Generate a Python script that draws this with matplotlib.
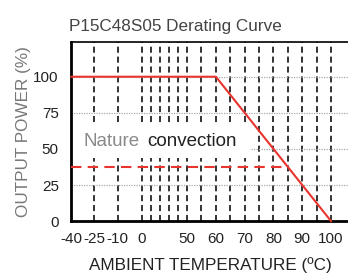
import matplotlib
matplotlib.use("Agg")
import matplotlib.pyplot as plt
from matplotlib.patches import Rectangle
import numpy as np

plt.rcParams.update({"font.family": ["Liberation Sans", "DejaVu Sans"]})

# temperature axis is drawn piecewise (the original chart is not linear)
AX_TEMPS = [-40, -25, -10, 0, 50, 100, 120]
AX_UNITS = [0, 23, 46, 70, 115, 258, 315.2]
fwd = lambda t: np.interp(t, AX_TEMPS, AX_UNITS)
inv = lambda u: np.interp(u, AX_UNITS, AX_TEMPS)

XTICKS = [-40, -25, -10, 0, 50, 60, 70, 80, 90, 100]
YTICKS = [0, 25, 50, 75, 100]
VGRID = [-25, -10, 0, 10, 20, 30, 40, 50, 55, 60, 65, 70, 75, 80, 85, 90, 95, 100]

# derating curve (solid) and natural convection level (dashed)
curve_t = [-40, 60, 100]
curve_p = [100, 100, 0]
conv_t = [-40, 85]
conv_p = [37.5, 37.5]

RED = "#e8342c"

fig = plt.figure(figsize=(3.48, 2.75), dpi=100)
ax = fig.add_axes([0.205, 0.196, 0.80, 0.651])
ax.set_xscale("function", functions=(fwd, inv))
ax.set_xlim(-40, 106.5); ax.set_ylim(0, 124)

for t in VGRID:
    ax.axvline(t, color="#1a1a1a", lw=1.25, ls=(0, (3.5, 2.2)), zorder=1)
for p in YTICKS[1:]:
    ax.axhline(p, color="#aaa", lw=0.9, ls=(0, (1, 1)), zorder=1)

ax.plot(curve_t, curve_p, color=RED, lw=1.5, zorder=3, clip_on=False)
ax.plot(conv_t, conv_p, color=RED, lw=1.5, ls=(0, (5, 3)), zorder=3)

# white label panel behind the annotation
ax.add_patch(Rectangle((-40, 44), 112, 23.5, facecolor="white",
                       edgecolor="none", zorder=2))
ax.text(-32, 55, "Nature", color="#8a8a8a", fontsize=13.5, va="center", zorder=2.5)
ax.text(6.5, 55, "convection", color="#222", fontsize=13.5, va="center", zorder=2.5)

ax.set_xticks(XTICKS); ax.set_xticklabels([str(t) for t in XTICKS])
ax.set_yticks(YTICKS)
ax.minorticks_off()
ax.tick_params(length=0, labelsize=11, colors="#222")
ax.tick_params(axis="x", pad=8)
ax.tick_params(axis="y", pad=9)
ax.set_xlabel("AMBIENT TEMPERATURE (ºC)", fontsize=12.3, color="#222", labelpad=8)
ax.set_ylabel("OUTPUT POWER (%)", fontsize=12.3, color="#777", labelpad=2)
ax.set_title("P15C48S05 Derating Curve", fontsize=12.3, color="#444",
             loc="left", pad=8, x=-0.01)

for s in ["left", "bottom"]:
    ax.spines[s].set_linewidth(2)
for s in ["top", "right"]:
    ax.spines[s].set_linewidth(1.2)

fig.savefig("out.png", dpi=100)
